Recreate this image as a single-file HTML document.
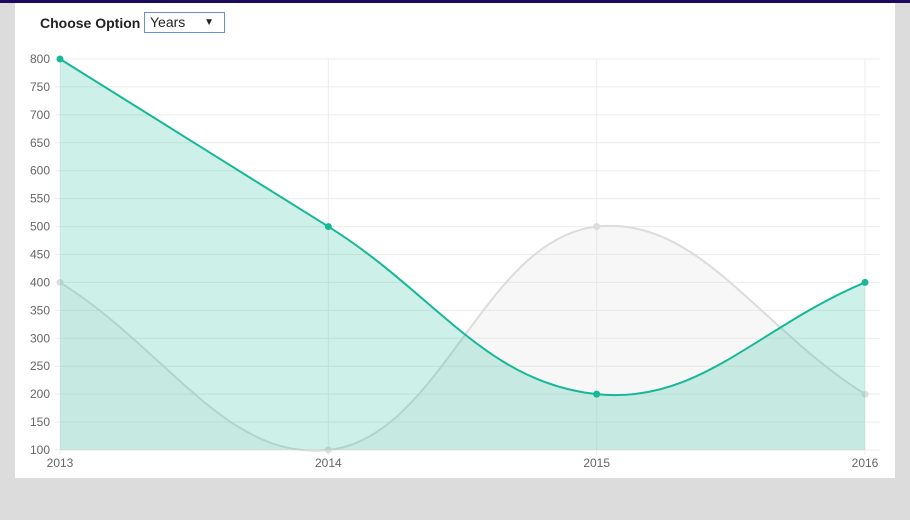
<!DOCTYPE html>
<html><head><meta charset="utf-8"><style>
html,body{margin:0;padding:0;}
body{width:910px;height:520px;background:#dcdcdc;position:relative;overflow:hidden;font-family:"Liberation Sans",Arial,sans-serif;}
#topbar{position:absolute;left:0;top:0;width:910px;height:3px;background:#1b0a5c;}
#panel{position:absolute;left:15px;top:3px;width:880px;height:475px;background:#fff;}
#label{position:absolute;left:40px;top:15px;font-size:14px;font-weight:bold;color:#222;}
#sel{position:absolute;left:144px;top:12px;width:79px;height:19px;border:1px solid #6b8fd6;font-size:14px;color:#222;box-sizing:content-box;}
#sel span{position:absolute;left:5px;top:1px;}
#sel b{position:absolute;right:10px;top:4px;font-size:10px;}
svg{position:absolute;left:0;top:0;}
</style></head><body>
<div id="topbar"></div>
<div id="panel"></div>
<div id="label">Choose Option</div>
<div id="sel"><span>Years</span><b>▼</b></div>
<svg id="chart" width="910" height="520"></svg>
<script>
const categories=["2013","2014","2015","2016"];
const greySeries=[400,100,500,200];
const tealSeries=[800,500,200,400];
const yTicks=[100,150,200,250,300,350,400,450,500,550,600,650,700,750,800];

const X0=60,X1=865,Y0=450,Y1=59,YMIN=100,YMAX=800;
function xs(i){return X0+(X1-X0)*i/(categories.length-1);}
function ys(v){return Y0-(v-YMIN)*(Y0-Y1)/(YMAX-YMIN);}
const NS="http://www.w3.org/2000/svg";
const svg=document.getElementById('chart');
function mk(t,a){const e=document.createElementNS(NS,t);for(const k in a)e.setAttribute(k,a[k]);svg.appendChild(e);return e;}

yTicks.forEach(v=>{
  const y=ys(v);
  const g=mk('line',{x1:55,x2:880,y1:y,y2:y,stroke:'#ececec','stroke-width':1});
  
  
  const t=mk('text',{x:50,y:y+4,'text-anchor':'end','font-size':12,fill:'#666','font-family':'Liberation Sans, sans-serif'});
  t.textContent=v;
  
  
});
categories.forEach((c,i)=>{
  const x=xs(i);
  const g=mk('line',{x1:x,x2:x,y1:Y1,y2:455,stroke:'#ececec','stroke-width':1});
  
  
  const t=mk('text',{x:x,y:467,'text-anchor':'middle','font-size':12,fill:'#666','font-family':'Liberation Sans, sans-serif'});
  t.textContent=c;
  
  
});

function curve(vals){
  const p=vals.map((v,i)=>({x:xs(i),y:ys(v)}));
  const t=0.4;const cps=[];
  for(let i=0;i<p.length;i++){
    const prev=p[Math.max(0,i-1)],cur=p[i],next=p[Math.min(p.length-1,i+1)];
    const d01=Math.hypot(cur.x-prev.x,cur.y-prev.y),d12=Math.hypot(next.x-cur.x,next.y-cur.y);
    let s01=d01/(d01+d12)||0,s12=d12/(d01+d12)||0;
    const fa=t*s01,fb=t*s12;
    cps.push({px:cur.x-fa*(next.x-prev.x),py:cur.y-fa*(next.y-prev.y),nx:cur.x+fb*(next.x-prev.x),ny:cur.y+fb*(next.y-prev.y)});
  }
  let d=`M${p[0].x},${p[0].y}`;
  for(let i=1;i<p.length;i++)d+=` C${cps[i-1].nx},${cps[i-1].ny} ${cps[i].px},${cps[i].py} ${p[i].x},${p[i].y}`;
  return {d,p};
}
function series(vals,fill,stroke,pt,name,w){
  const c=curve(vals);
  const f=mk('path',{d:c.d+` L${X1},${Y0} L${X0},${Y0} Z`,fill:fill});
  
  
  const l=mk('path',{d:c.d,fill:'none',stroke:stroke,'stroke-width':w});
  
  
  c.p.forEach(q=>{
    const ci=mk('circle',{cx:q.x,cy:q.y,r:3.5,fill:pt});
    
    
  });
}
series(greySeries,'rgba(220,220,220,0.22)','#dcdcdc','#dcdcdc','grey-series',2);
series(tealSeries,'rgba(26,188,156,0.22)','#16b898','#16b898','teal-series',2);
</script>
</body></html>
